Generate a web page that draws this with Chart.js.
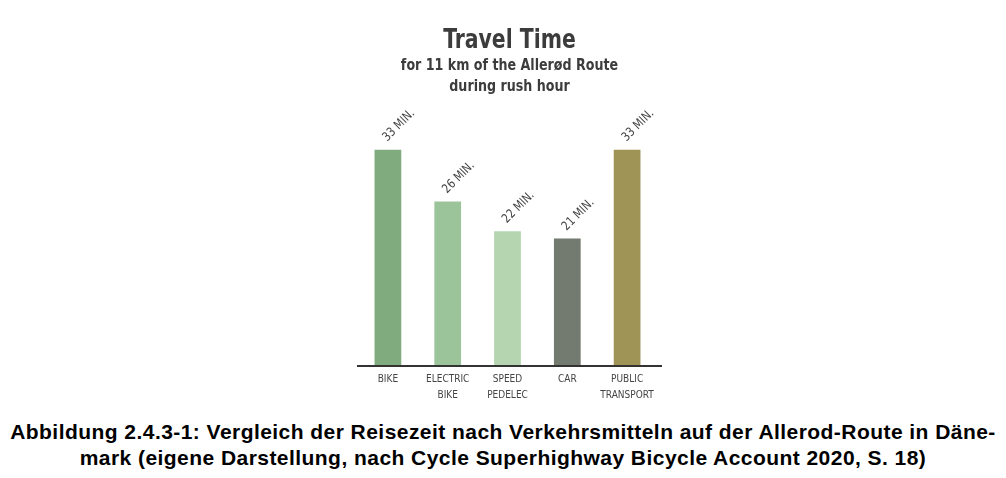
<!DOCTYPE html>
<html>
<head>
<meta charset="utf-8">
<script src="https://cdn.jsdelivr.net/npm/chart.js@4.4.1/dist/chart.umd.min.js"></script>
<style>
  html, body { margin: 0; padding: 0; background: #ffffff; }
  body { width: 1006px; height: 478px; position: relative; overflow: hidden; }
  #wrap { position: absolute; left: 0; top: 0; width: 1006px; height: 410px; }
  #caption {
    position: absolute; left: 0; top: 419px; width: 1006px;
    text-align: center; font-family: "Liberation Sans", Arial, sans-serif;
    font-weight: bold; font-size: 21px; line-height: 26px; color: #000;
    white-space: nowrap; letter-spacing: 0.45px;
  }
</style>
</head>
<body>
<div id="wrap"><canvas id="c" width="1006" height="410"></canvas></div>
<div id="caption">Abbildung 2.4.3-1: Vergleich der Reisezeit nach Verkehrsmitteln auf der Allerod-Route in Däne-<br>mark (eigene Darstellung, nach Cycle Superhighway Bicycle Account 2020, S. 18)</div>
<script>
const categories = [["BIKE"], ["ELECTRIC", "BIKE"], ["SPEED", "PEDELEC"], ["CAR"], ["PUBLIC", "TRANSPORT"]];
const minutes = [33, 26, 22, 21, 33];
const valueLabels = ["33 MIN.", "26 MIN.", "22 MIN.", "21 MIN.", "33 MIN."];
const barColors = ["#7fab7e", "#9cc49a", "#b5d5b1", "#737a6f", "#9f9356"];
const titleText = "Travel Time";
const subtitleLines = ["for 11 km of the Allerød Route", "during rush hour"];

const condFont = "'DejaVu Sans Condensed', 'Liberation Sans Narrow', 'DejaVu Sans', sans-serif";

const decorPlugin = {
  id: 'decor',
  afterDraw(chart) {
    const ctx = chart.ctx;
    const area = chart.chartArea;
    const cx = (area.left + area.right) / 2 + 2;
    ctx.save();
    // baseline
    ctx.strokeStyle = '#333333';
    ctx.lineWidth = 2;
    ctx.beginPath();
    ctx.moveTo(area.left - 1, area.bottom + 1);
    ctx.lineTo(area.right + 5, area.bottom + 1);
    ctx.stroke();
    // title
    ctx.fillStyle = '#3c3c3c';
    ctx.textAlign = 'center';
    ctx.textBaseline = 'alphabetic';
    ctx.save();
    ctx.translate(cx, 48);
    ctx.scale(0.84, 1);
    ctx.font = "bold 27px " + condFont;
    ctx.fillText(titleText, 0, 0);
    ctx.restore();
    ctx.font = "bold 16px " + condFont;
    subtitleLines.forEach((t, i) => {
      ctx.save();
      ctx.translate(cx, 70 + i * 21);
      ctx.scale(0.88, 1);
      ctx.fillText(t, 0, 0);
      ctx.restore();
    });
    // value labels
    const meta = chart.getDatasetMeta(0);
    ctx.fillStyle = '#444444';
    ctx.textAlign = 'left';
    ctx.textBaseline = 'middle';
    meta.data.forEach((bar, i) => {
      ctx.save();
      ctx.translate(bar.x - 3, bar.y - 10);
      ctx.rotate(-Math.PI / 4);
      ctx.scale(0.92, 1);
      ctx.font = "12.5px " + condFont;
      ctx.fillText(valueLabels[i], 0, 0);
      ctx.restore();
    });
    ctx.restore();
  }
};

new Chart(document.getElementById('c'), {
  type: 'bar',
  data: {
    labels: categories,
    datasets: [{
      data: minutes,
      backgroundColor: barColors,
      borderWidth: 0,
      barPercentage: 0.447,
      categoryPercentage: 1.0
    }]
  },
  options: {
    responsive: false,
    animation: false,
    devicePixelRatio: 1,
    layout: { padding: { left: 358, right: 349, top: 149.4, bottom: 0 } },
    plugins: { legend: { display: false }, tooltip: { enabled: false }, title: { display: false } },
    scales: {
      x: {
        grid: { display: false, drawTicks: false },
        border: { display: false },
        ticks: {
          color: '#444444',
          font: { family: condFont, size: 10, lineHeight: 1.6 },
          padding: 6,
          maxRotation: 0,
          autoSkip: false
        },
        afterFit(scale) { scale.height = 45; }
      },
      y: {
        display: false,
        min: 4,
        max: 33
      }
    }
  },
  plugins: [decorPlugin]
});
</script>
</body>
</html>
